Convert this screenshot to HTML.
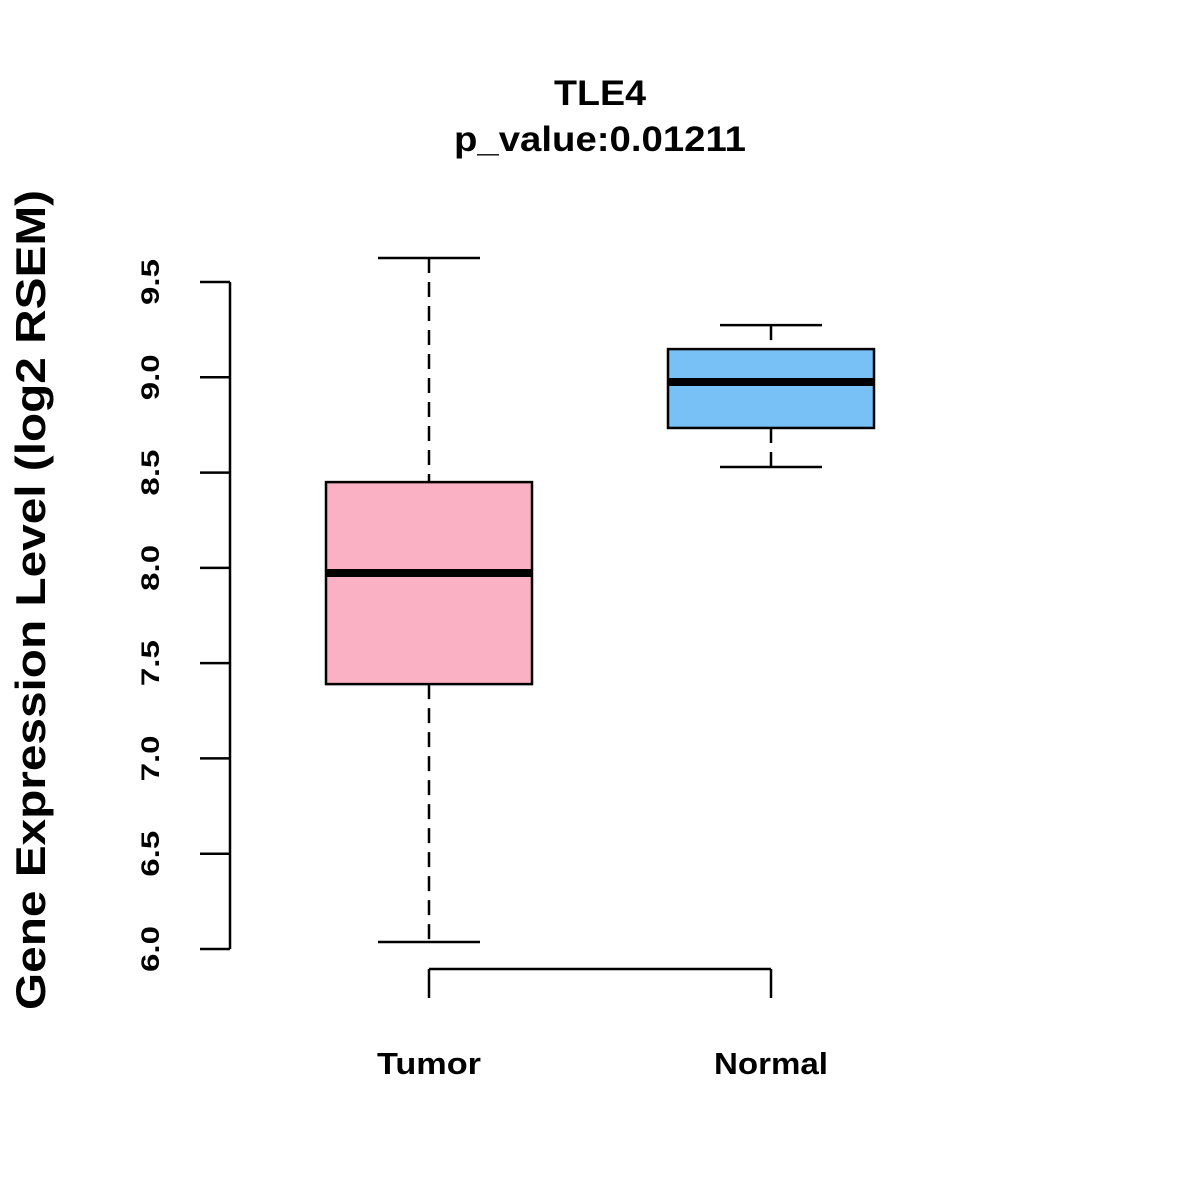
<!DOCTYPE html>
<html><head><meta charset="utf-8"><style>body{margin:0;background:#fff}svg{display:block}</style></head>
<body>
<svg width="1200" height="1200" xmlns="http://www.w3.org/2000/svg" font-family="Liberation Sans, Arial, sans-serif" font-weight="bold">
<rect width="1200" height="1200" fill="#fff"/>
<text x="600" y="105" font-size="35" text-anchor="middle" textLength="92" lengthAdjust="spacingAndGlyphs">TLE4</text>
<text x="600" y="151" font-size="35" text-anchor="middle" textLength="292" lengthAdjust="spacingAndGlyphs">p_value:0.01211</text>
<text transform="translate(45,600) rotate(-90)" font-size="42" text-anchor="middle" textLength="820" lengthAdjust="spacingAndGlyphs">Gene Expression Level (log2 RSEM)</text>
<g id="plot"></g>
</svg>
<script>
const categories = ["Tumor", "Normal"];
const whiskerLow = [6.037, 8.529];
const q1 = [7.39, 8.734];
const medians = [7.973, 8.975];
const q3 = [8.45, 9.148];
const whiskerHigh = [9.626, 9.274];
const fills = ["#FBB1C4", "#77C1F7"];
const yTicks = [6.0, 6.5, 7.0, 7.5, 8.0, 8.5, 9.0, 9.5];
const tickLabels = ["6.0","6.5","7.0","7.5","8.0","8.5","9.0","9.5"];

const NS = "http://www.w3.org/2000/svg";
const g = document.getElementById("plot");
const y = v => 949 - (v - 6.0) * (667 / 3.5);
const x = i => 429 + i * 342;
function mk(tag, attrs, parent) {
  const e = document.createElementNS(NS, tag);
  for (const k in attrs) e.setAttribute(k, attrs[k]);
  (parent || g).appendChild(e);
  return e;
}
const ax = mk("line", {x1:230, x2:230, y1:y(yTicks[0]), y2:y(yTicks[yTicks.length-1]), stroke:"#000", "stroke-width":2.5});


yTicks.forEach((t, i) => {
  const tk = mk("line", {x1:200, x2:230, y1:y(t), y2:y(t), stroke:"#000", "stroke-width":2.5});
  
  
  const tl = mk("text", {transform:`translate(159,${y(t)}) rotate(-90)`, "font-size":25, "text-anchor":"middle", textLength:46, lengthAdjust:"spacingAndGlyphs"});
  tl.textContent = tickLabels[i];
  
  
});
const xa = mk("line", {x1:x(0), x2:x(categories.length-1), y1:969, y2:969, stroke:"#000", "stroke-width":2.5});


const labelW = [104, 114];
categories.forEach((c, i) => {
  const cx = x(i);
  const tk = mk("line", {x1:cx, x2:cx, y1:969, y2:998, stroke:"#000", "stroke-width":2.5});
  
  
  const lb = mk("text", {x:cx, y:1074, "font-size":31, "text-anchor":"middle", textLength:labelW[i], lengthAdjust:"spacingAndGlyphs"});
  lb.textContent = c;
  
  
  const bg = mk("g", {});
  
  
  const dash = {stroke:"#000", "stroke-width":2.5, "stroke-dasharray":"15,9"};
  mk("line", Object.assign({x1:cx, x2:cx, y1:y(whiskerHigh[i]), y2:y(q3[i])}, dash), bg);
  mk("line", Object.assign({x1:cx, x2:cx, y1:y(q1[i]), y2:y(whiskerLow[i])}, dash), bg);
  mk("line", {x1:cx-51, x2:cx+51, y1:y(whiskerHigh[i]), y2:y(whiskerHigh[i]), stroke:"#000", "stroke-width":2.5}, bg);
  mk("line", {x1:cx-51, x2:cx+51, y1:y(whiskerLow[i]), y2:y(whiskerLow[i]), stroke:"#000", "stroke-width":2.5}, bg);
  mk("rect", {x:cx-103, width:206, y:y(q3[i]), height:y(q1[i])-y(q3[i]), fill:fills[i], stroke:"#000", "stroke-width":2.5}, bg);
  mk("line", {x1:cx-103, x2:cx+103, y1:y(medians[i]), y2:y(medians[i]), stroke:"#000", "stroke-width":8}, bg);
});
</script>
</body></html>
